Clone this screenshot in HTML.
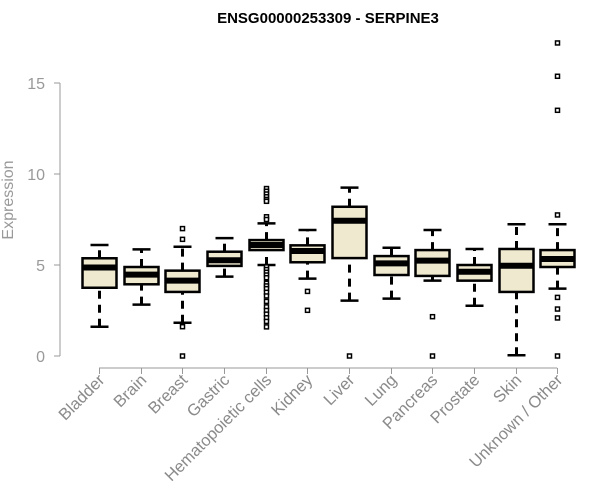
<!DOCTYPE html>
<html><head><meta charset="utf-8"><style>
body{margin:0;background:#fff;}
svg{display:block;font-family:"Liberation Sans",Arial,sans-serif;}
</style></head><body>
<svg id="chart" width="600" height="500" viewBox="0 0 600 500">
<text x="328" y="23" text-anchor="middle" font-size="15" font-weight="bold" fill="#000">ENSG00000253309 - SERPINE3</text>
<text transform="translate(13,200) rotate(-90)" text-anchor="middle" font-size="16" fill="#999">Expression</text>
<g id="plot"></g>
</svg>
<script>
const categories=["Bladder","Brain","Breast","Gastric","Hematopoietic cells","Kidney","Liver","Lung","Pancreas","Prostate","Skin","Unknown / Other"];
const whiskerLow=[1.61,2.82,1.83,4.36,5.0,4.25,3.04,3.15,4.14,2.76,0.04,3.7];
const q1=[3.75,3.94,3.52,4.95,5.82,5.15,5.38,4.45,4.4,4.14,3.52,4.89];
const medians=[4.86,4.47,4.14,5.26,6.1,5.77,7.43,5.09,5.24,4.63,4.96,5.33];
const q3=[5.37,4.89,4.69,5.73,6.37,6.08,8.2,5.49,5.82,5.0,5.88,5.82];
const whiskerHigh=[6.1,5.86,6.0,6.48,7.29,6.92,9.25,5.95,6.92,5.88,7.24,7.24];
const outliers=[[],[],[7.0,6.41,1.61,0],[],[9.2,9.05,8.9,8.75,8.6,8.5,7.65,7.5,4.9,4.75,4.6,4.45,4.3,4.0,3.85,3.7,3.5,3.3,3.0,2.7,2.5,2.3,2.1,1.9,1.6],[3.55,2.51],[0],[],[2.16,0],[],[],[17.2,15.37,13.5,7.75,3.22,2.58,2.09,0]];
const yTicks=[0,5,10,15];

const NS="http://www.w3.org/2000/svg";
const g=document.getElementById('plot');
function y(v){return 356-v*18.2;}
function x(i){return 99+i*41.65;}
function mk(tag,attrs,parent){const e=document.createElementNS(NS,tag);for(const k in attrs)e.setAttribute(k,attrs[k]);(parent||g).appendChild(e);return e;}

let ya=mk('line',{x1:60,x2:60,y1:y(0),y2:y(15),stroke:'#999','stroke-width':1});


yTicks.forEach(t=>{
  let tk=mk('line',{x1:54,x2:60,y1:y(t),y2:y(t),stroke:'#999'});
  
  
  let tl=mk('text',{x:45,y:y(t)+6,'text-anchor':'end','font-size':16,fill:'#999'});
  tl.textContent=t;
  
  
});
let xa=mk('line',{x1:x(0),x2:x(categories.length-1),y1:368,y2:368,stroke:'#999'});


categories.forEach((c,i)=>{
  const cx=Math.round(x(i))+0.5;
  let tk=mk('line',{x1:cx,x2:cx,y1:368,y2:374,stroke:'#999'});
  
  
  let tl=mk('text',{transform:`translate(${cx+6},${381}) rotate(-45)`,'text-anchor':'end','font-size':16.5,fill:'#8a8a8a'});
  tl.textContent=c;
  
  
  const bg=mk('g',{});
  
  
  mk('line',{x1:cx,x2:cx,y1:y(whiskerLow[i]),y2:y(q1[i]),stroke:'#000','stroke-width':3,'stroke-dasharray':'8,6'},bg);
  mk('line',{x1:cx,x2:cx,y1:y(q3[i]),y2:y(whiskerHigh[i]),stroke:'#000','stroke-width':3,'stroke-dasharray':'8,6'},bg);
  mk('line',{x1:cx-9,x2:cx+9,y1:y(whiskerLow[i]),y2:y(whiskerLow[i]),stroke:'#000','stroke-width':2.5},bg);
  mk('line',{x1:cx-9,x2:cx+9,y1:y(whiskerHigh[i]),y2:y(whiskerHigh[i]),stroke:'#000','stroke-width':2.5},bg);
  mk('rect',{x:cx-17,y:y(q3[i]),width:34,height:y(q1[i])-y(q3[i]),fill:'#efe9d0',stroke:'#000','stroke-width':2.5},bg);
  mk('line',{x1:cx-17,x2:cx+17,y1:y(medians[i]),y2:y(medians[i]),stroke:'#000','stroke-width':6},bg);
  outliers[i].forEach(v=>{
    let o=mk('rect',{x:cx-2,y:y(v)-2,width:4,height:4,fill:'#fff',stroke:'#000','stroke-width':1.5},bg);
    
    
  });
});
</script>
</body></html>
